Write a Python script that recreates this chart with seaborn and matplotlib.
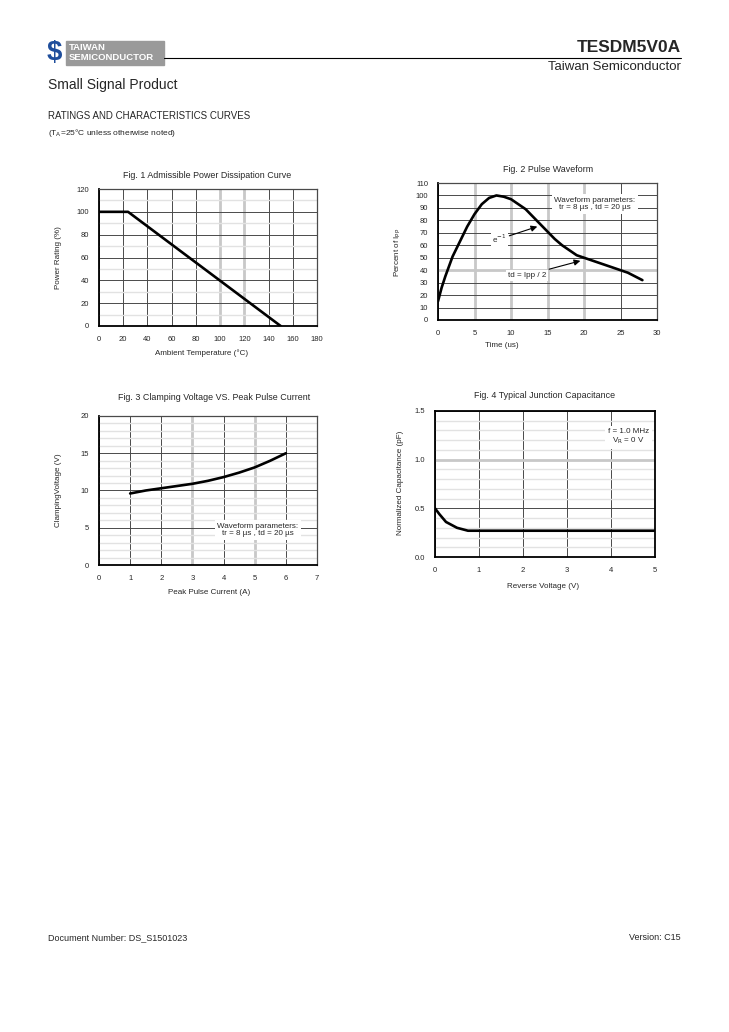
import numpy as np
import pandas as pd
import matplotlib
matplotlib.use("Agg")
import matplotlib.pyplot as plt
import seaborn as sns

sns.set_style("white")
plt.rcParams['font.family'] = ['Liberation Sans', 'DejaVu Sans']

# Fig. 1 - admissible power dissipation
temp_c = [0, 24, 150]
power_pct = [100, 100, 0]

# Fig. 2 - pulse waveform
time_us = [0, 0.5, 1, 1.5, 2, 3, 4, 5, 6, 7, 8, 9, 10, 11, 12, 13, 14, 15, 16, 17, 18, 19,
           20, 21, 22, 23, 24, 25, 26, 27, 28]
ipp_pct = [15, 26, 35, 43, 51, 63, 75, 85, 93, 98, 100, 99, 97, 93, 89, 83, 77, 71, 65, 60,
           56, 52, 50, 48, 46, 44, 42, 40, 38, 35, 32]

# Fig. 3 - clamping voltage vs peak pulse current
ipp_a = [1, 1.5, 2, 2.5, 3, 3.5, 4, 4.5, 5, 5.5, 6]
vc_v = [9.6, 10.0, 10.3, 10.6, 10.9, 11.3, 11.8, 12.4, 13.1, 14.0, 15.0]

# Fig. 4 - junction capacitance
vr_v = [0, 0.1, 0.25, 0.5, 0.75, 1, 2, 3, 4, 5]
cap_pf = [0.5, 0.44, 0.36, 0.30, 0.27, 0.27, 0.27, 0.27, 0.27, 0.27]

W, H = 729, 1032
fig = plt.figure(figsize=(W / 100, H / 100), dpi=100)


def px_ax(x0, y0, x1, y1):
    return fig.add_axes([x0 / W, 1 - y1 / H, (x1 - x0) / W, (y1 - y0) / H])


def ftext(x, y, s, **kw):
    fig.text(x / W, 1 - y / H, s, **kw)


DARK = '#4a4a4a'
LIGHT = '#c8c8c8'
MINOR = '#e2e2e2'


def style_axes(ax, light_x=(), light_y=()):
    ax.tick_params(labelsize=5.5, length=0)
    ax.tick_params(axis='y', pad=7)
    ax.tick_params(axis='x', pad=7)
    for s in ax.spines.values():
        s.set_color(DARK)
        s.set_linewidth(0.9)
    ax.spines['left'].set_color('black')
    ax.spines['bottom'].set_color('black')
    ax.spines['left'].set_linewidth(1.3)
    ax.spines['bottom'].set_linewidth(1.3)
    ax.grid(which='major', color=DARK, lw=0.7)
    ax.grid(which='minor', axis='y', color=MINOR, lw=1.0)
    ax.set_axisbelow(True)
    fig.canvas.draw()
    for val, gl in zip(ax.get_xticks(), ax.get_xgridlines()):
        if any(abs(val - v) < 1e-9 for v in light_x):
            gl.set_color(LIGHT)
            gl.set_linewidth(2.0)
    for val, gl in zip(ax.get_yticks(), ax.get_ygridlines()):
        if any(abs(val - v) < 1e-9 for v in light_y):
            gl.set_color(LIGHT)
            gl.set_linewidth(2.0)


# ---- header ----
ftext(47, 53, r'\$', fontsize=20, fontweight='bold', color='#1f4e9c', va='center')
fig.patches.append(plt.Rectangle((66 / W, 1 - 65 / H), 98 / W, 24 / H,
                                 transform=fig.transFigure, color='#9a9a9a'))
ftext(69, 47, 'TAIWAN', fontsize=6.8, fontweight='bold', color='white', va='center')
ftext(69, 58, 'SEMICONDUCTOR', fontsize=6.8, fontweight='bold', color='white', va='center')
fig.lines.append(plt.Line2D([164 / W, 681 / W], [1 - 58 / H, 1 - 58 / H],
                            transform=fig.transFigure, color='black', lw=0.8))
ftext(681, 47, 'TESDM5V0A', fontsize=12.5, fontweight='bold', ha='right', va='center')
ftext(681, 67, 'Taiwan Semiconductor', fontsize=9.5, ha='right', va='center')
ftext(48, 85, 'Small Signal Product', fontsize=10, va='center')
ftext(48, 116, 'RATINGS AND CHARACTERISTICS CURVES', fontsize=7, va='center')
ftext(48, 133, r'(T$_{\mathrm{A}}$=25°C unless otherwise noted)', fontsize=6, va='center')

# ---- footer ----
ftext(48, 938, 'Document Number: DS_S1501023', fontsize=6.5, va='center')
ftext(681, 938, 'Version: C15', fontsize=6.5, ha='right', va='center')

lw_curve = 1.9
arrow_kw = dict(arrowstyle='-|>', color='black', lw=0.8, mutation_scale=9,
                shrinkA=1, shrinkB=0)

# ---- Fig. 1 ----
ax1 = px_ax(99, 189, 317, 326)
sns.lineplot(x=temp_c, y=power_pct, ax=ax1, color='black', lw=lw_curve)
ax1.set_xlim(0, 180)
ax1.set_ylim(0, 120)
ax1.set_xticks(np.arange(0, 181, 20))
ax1.set_yticks(np.arange(0, 121, 20))
ax1.set_yticks(np.arange(0, 121, 10), minor=True)
style_axes(ax1, light_x=(100, 120))
ftext(207, 176, 'Fig. 1 Admissible Power Dissipation Curve', fontsize=6.4, ha='center', va='center')
ftext(58, 258, 'Power Rating (%)', fontsize=5.8, rotation=90, ha='center', va='center')
ftext(202, 353, 'Ambient Temperature (°C)', fontsize=5.8, ha='center', va='center')

# ---- Fig. 2 ----
ax2 = px_ax(438, 183, 657, 320)
sns.lineplot(x=time_us, y=ipp_pct, ax=ax2, color='black', lw=lw_curve)
ax2.set_xlim(0, 30)
ax2.set_ylim(0, 110)
ax2.set_xticks(np.arange(0, 31, 5))
ax2.set_yticks(np.arange(0, 111, 10))
style_axes(ax2, light_x=(5, 10, 15, 20), light_y=(40,))
ax2.text(21.5, 93, 'Waveform parameters:\ntr = 8 µs , td = 20 µs', fontsize=5.8,
         ha='center', va='center', linespacing=1.1,
         bbox=dict(facecolor='white', edgecolor='none', pad=2))
ax2.annotate(r'e$^{-1}$', xy=(13.6, 75), xytext=(9.4, 65), fontsize=5.8,
             ha='right', va='center',
             bbox=dict(facecolor='white', edgecolor='none', pad=1),
             arrowprops=arrow_kw)
ax2.annotate('td = Ipp / 2', xy=(19.5, 47.5), xytext=(14.8, 36), fontsize=5.8,
             ha='right', va='center',
             bbox=dict(facecolor='white', edgecolor='none', pad=1.5),
             arrowprops=arrow_kw)
ftext(548, 169, 'Fig. 2 Pulse Waveform', fontsize=6.4, ha='center', va='center')
ftext(398, 252, r'Percent of I$_{\mathrm{PP}}$', fontsize=5.8, rotation=90, ha='center', va='center')
ftext(502, 346, 'Time (us)', fontsize=5.8, ha='center', va='center')

# ---- Fig. 3 ----
ax3 = px_ax(99, 416, 317, 565)
sns.lineplot(x=ipp_a, y=vc_v, ax=ax3, color='black', lw=lw_curve)
ax3.set_xlim(0, 7)
ax3.set_ylim(0, 20)
ax3.set_xticks(np.arange(0, 8, 1))
ax3.set_yticks(np.arange(0, 21, 5))
ax3.set_yticks(np.arange(0, 21, 1), minor=True)
style_axes(ax3, light_x=(3, 5))
ax3.text(5.1, 4.7, 'Waveform parameters:\ntr = 8 µs , td = 20 µs', fontsize=5.8,
         ha='center', va='center', linespacing=1.1,
         bbox=dict(facecolor='white', edgecolor='none', pad=2))
ftext(214, 398, 'Fig. 3 Clamping Voltage VS. Peak Pulse Current', fontsize=6.4, ha='center', va='center')
ftext(58, 490, 'ClampingVoltage (V)', fontsize=5.8, rotation=90, ha='center', va='center')
ftext(209, 592, 'Peak Pulse Current (A)', fontsize=5.8, ha='center', va='center')

# ---- Fig. 4 ----
ax4 = px_ax(435, 411, 655, 557)
sns.lineplot(x=vr_v, y=cap_pf, ax=ax4, color='black', lw=lw_curve)
ax4.set_xlim(0, 5)
ax4.set_ylim(0, 1.5)
ax4.set_xticks(np.arange(0, 6, 1))
ax4.set_yticks([0, 0.5, 1.0, 1.5])
ax4.set_yticks(np.arange(0, 1.51, 0.1), minor=True)
ax4.set_yticklabels(['0.0', '0.5', '1.0', '1.5'])
style_axes(ax4, light_y=(1.0,))
for s in ax4.spines.values():
    s.set_color('black')
    s.set_linewidth(1.3)
ax4.text(4.4, 1.235, 'f = 1.0 MHz\n' + r'V$_{\mathrm{R}}$ = 0 V', fontsize=5.8,
         ha='center', va='center', linespacing=1.1,
         bbox=dict(facecolor='white', edgecolor='none', pad=2))
ftext(545, 395, 'Fig. 4 Typical Junction Capacitance', fontsize=6.4, ha='center', va='center')
ftext(400, 483, 'Normalized Capacitance (pF)', fontsize=5.8, rotation=90, ha='center', va='center')
ftext(543, 586, 'Reverse Voltage (V)', fontsize=5.8, ha='center', va='center')

fig.savefig('out.png', dpi=100)
